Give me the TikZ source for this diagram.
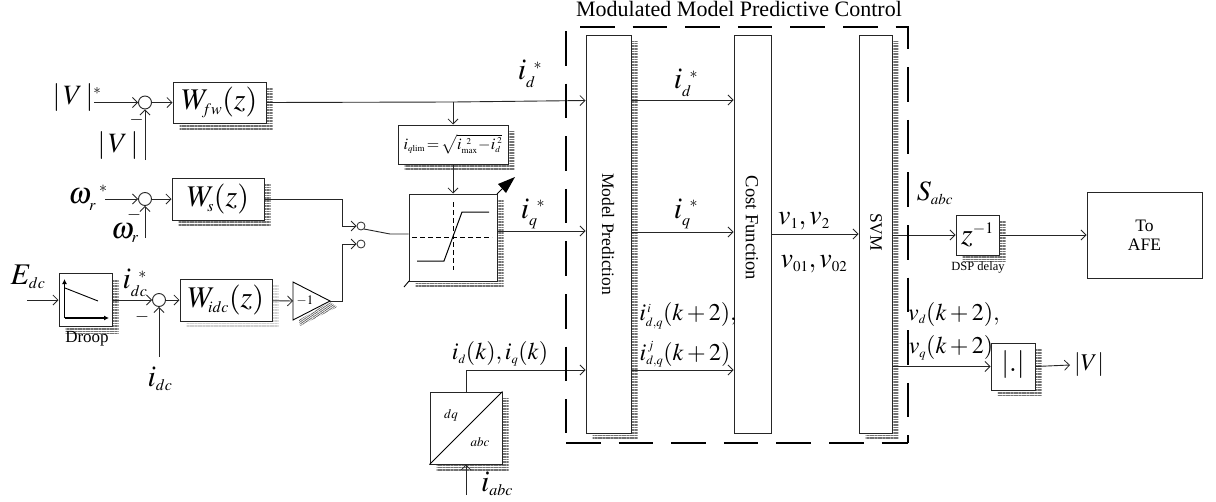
\documentclass[tikz,border=0pt]{standalone}
\usepackage{mathptmx}
\usepackage{fontspec}
\setmainfont{Liberation Serif}
\usetikzlibrary{arrows.meta,shadows,patterns.meta,calc}
\DeclareMathSizes{30}{30}{16}{12}
\DeclareMathSizes{28}{28}{15}{11}
\DeclareMathSizes{24}{24}{12.5}{10}
\DeclareMathSizes{16}{16}{9}{7}
\newcommand{\fsz}[1]{\fontsize{#1}{#1}\selectfont}
\tikzset{
  x=1pt,y=-1pt,
  wire/.style={line width=0.9pt,draw=black!85},
  arr/.style={wire,-{Straight Barb[length=5pt,width=10pt,line width=0.8pt]}},
  hatchshadow/.style={general shadow={shadow xshift=6.5pt,shadow yshift=-6.5pt,
     pattern={Lines[angle=0,distance=1.6pt,line width=0.8pt]},pattern color=black!55}},
  lightshadow/.style={general shadow={shadow xshift=6.5pt,shadow yshift=-6.5pt,
     pattern={Lines[angle=0,distance=1.6pt,line width=0.6pt]},pattern color=black!18}},
  blockbox/.style={draw=black!85,line width=1pt,fill=white,inner sep=0pt,anchor=center},
  sumnode/.style={circle,draw=black!85,line width=0.9pt,fill=white,minimum size=13pt,inner sep=0pt},
  contact/.style={circle,draw=black!85,line width=0.8pt,fill=white,minimum size=8pt,inner sep=0pt},
  lab/.style={inner sep=0pt,anchor=center},
  border/.style={line width=2pt,dash pattern=on 34.6pt off 18pt},
}
\begin{document}
\begin{tikzpicture}
\useasboundingbox (0,0) rectangle (1216,501);
% blocks
\node[blockbox,hatchshadow,minimum width=93pt,minimum height=41pt] (wfw) at (219.5,102.5) {\fsz{30}$W_{\!fw}(z)$};
\node[blockbox,hatchshadow,minimum width=92pt,minimum height=42pt] (ws) at (218,199) {\fsz{30}$W_{\!s}(z)$};
\node[blockbox,lightshadow,minimum width=92pt,minimum height=42pt] (widc) at (226,300) {\fsz{30}$W_{\!idc}(z)$};
\node[blockbox,hatchshadow,minimum width=53pt,minimum height=53pt] (droop) at (85.5,300) {};
\node[blockbox,hatchshadow,minimum width=110pt,minimum height=39pt] (lim) at (453,144.5) {\fsz{16}$i_{q\mathrm{lim}}\!=\!\sqrt{i_{\mathrm{max}}^{\ \,2}\!-\!i_{d}^{\;2}}$};
\node[blockbox,hatchshadow,minimum width=88pt,minimum height=87pt] (sat) at (453,237.5) {};
\node[blockbox,hatchshadow,minimum width=45pt,minimum height=398pt] (mp) at (608.5,234) {};
\node[blockbox,minimum width=37pt,minimum height=398pt] (cf) at (752.5,234) {};
\node[blockbox,hatchshadow,minimum width=33pt,minimum height=398pt] (svm) at (875.5,234) {};
\node[blockbox,hatchshadow,minimum width=43pt,minimum height=40pt] (zd) at (977.5,235) {\fsz{30}$z^{-1}$};
\node[blockbox,minimum width=115pt,minimum height=86pt,align=center] (afe) at (1144.5,235) {\fsz{17.5}To\\[7pt]\fsz{17.5}AFE};
\node[blockbox,hatchshadow,minimum width=44pt,minimum height=47pt] (absb) at (1013,366.5) {};
\node[blockbox,hatchshadow,minimum width=72pt,minimum height=72pt] (dq) at (466,428) {};
% sums and switch
\node[sumnode] (s1) at (145,102.5) {};
\node[sumnode] (s2) at (145,199) {};
\node[sumnode] (s3) at (159,300) {};
\node[contact] (c1) at (361,226) {};
\node[contact] (c2) at (361,244) {};
% gain
\fill[pattern={Lines[angle=35,distance=1.7pt,line width=0.7pt]},pattern color=black!65] (299,320)--(330,302)--(337,307)--(300,326)--cycle;
\coordinate (gi) at (293,301);
\coordinate (go) at (330,301);
\draw[line width=0.9pt,fill=white] (293,282)--(go)--(293,320)--cycle;
\node[lab] (gt) at (305,301) {\fsz{13}$-1$};
% free ends
\coordinate (vin) at (94,102.5);
\coordinate (vfb) at (145,160);
\coordinate (win) at (105,199);
\coordinate (wfb) at (145,238);
\coordinate (ein) at (27,300);
\coordinate (ifb) at (159,357);
\coordinate (tap) at (453,102);
\coordinate (vout) at (1070,365);
\coordinate (iabc) at (466,495);
\coordinate (blade) at (390,234);
\coordinate (c1e) at (364,229);
% connectors
\draw[arr] (vin) -- (s1);
\draw[arr] (vfb) -- (s1);
\draw[arr] (s1) -- (wfw);
\draw[arr] (win) -- (s2);
\draw[arr] (wfb) -- (s2);
\draw[arr] (s2) -- (ws);
\draw[arr] (ein) -- (droop);
\draw[arr] (droop) -- (s3);
\draw[arr] (ifb) -- (s3);
\draw[arr] (s3) -- (widc);
\draw[arr] (widc) -- (gi);
\draw[wire] (wfw.east) -- (tap);
\draw[arr] (tap) -- (mp.west |- 0,100.5);
\draw[arr] (tap) -- (lim.north);
\draw[arr] (lim.south) -- (sat.north);
\draw[arr] (ws.east) -- (342,199) -- (342,226) -- (c1);
\draw[arr] (go) -- (342,301) -- (342,244) -- (c2);
\draw[wire] (c1e) -- (blade) -- (sat.west |- blade);
\draw[arr] (sat.east |- 0,231) -- (mp.west |- 0,231);
\draw[arr] (mp.east |- 0,100) -- (cf.west |- 0,100);
\draw[arr] (mp.east |- 0,232) -- (cf.west |- 0,232);
\draw[arr] (mp.east |- 0,370) -- (cf.west |- 0,370);
\draw[arr] (dq.north) -- (466,370) -- (mp.west |- 0,370);
\draw[arr] (iabc) -- (dq.south);
\draw[arr] (cf.east |- 0,234) -- (svm.west |- 0,234);
\draw[arr] (svm.east |- zd.west) -- (zd.west);
\draw[arr] (zd.east) -- (afe.west);
\draw[arr] (svm.east |- absb.west) -- (absb.west);
\draw[arr] (absb.east) -- (vout);
% diagonal of dq
\draw[line width=0.9pt] (dq.south west) -- (dq.north east);
\draw[line width=0.9pt] (409,281) -- (404,287);
% droop characteristic
\draw[line width=1.1pt,-{Latex[length=5pt,width=5pt]}] (64.5,318) -- (64.5,279);
\draw[line width=1.1pt,-{Latex[length=5pt,width=5pt]}] (64.5,318) -- (109,318);
\draw[line width=0.9pt] (65,288) -- (98,301);
% saturation characteristic
\draw[line width=0.9pt,dash pattern=on 5pt off 3pt] (453,202) -- (453,270);
\draw[line width=0.9pt,dash pattern=on 5pt off 3pt] (412,237) -- (492,237);
\draw[line width=1pt] (417,261) -- (444,261) -- (462,212) -- (489,212);
\draw[line width=1pt] (497,194) -- (503,188);
\fill (515,177) -- (498,184) -- (506,193) -- cycle;
% border
\draw[border] (580,27) -- (908,27) -- (908,443);
\draw[border] (566,443) -- (908,443);
\draw[border] (566,31) -- (566,433);
% labels
\node[lab] (tt) at (739,9) {\fsz{22}Modulated Model Predictive Control};
\node[lab,rotate=-90] (tmp) at (608,234) {\fsz{17.5}Model Prediction};
\node[lab,rotate=-90] (tcf) at (752,228) {\fsz{18.5}Cost Function};
\node[lab,rotate=-90] (tsv) at (876,232) {\fsz{17.5}SVM};
\node[lab] (l1) at (77,98) {\fsz{28}$|\,V\,|^{*}$};
\node[lab] (l2) at (118,146) {\fsz{28}$|\,V\,|$};
\node[lab] (l3) at (88,198) {\fsz{30}$\omega_{r}^{\ *}$};
\node[lab] (l4) at (125,233) {\fsz{30}$\omega_{r}$};
\node[lab] (m1) at (136.5,120) {\fsz{18}$-$};
\node[lab] (m2) at (134,215) {\fsz{18}$-$};
\node[lab] (m3) at (142,317) {\fsz{18}$-$};
\node[lab] (l5) at (28,277) {\fsz{30}$E_{dc}$};
\node[lab] (l6) at (135,283) {\fsz{30}$i_{dc}^{\ *}$};
\node[lab] (l7) at (160,379) {\fsz{30}$i_{dc}$};
\node[lab] (l8) at (87,339) {\fsz{17}Droop};
\node[lab] (l9) at (530,74) {\fsz{30}$i_{d}^{\ *}$};
\node[lab] (l10) at (533,214) {\fsz{30}$i_{q}^{\ *}$};
\node[lab] (l11) at (686,83) {\fsz{30}$i_{d}^{\ *}$};
\node[lab] (l12) at (686,214) {\fsz{30}$i_{q}^{\ *}$};
\node[lab] (l13) at (500,354) {\fsz{24}$i_{d}(k),i_{q}(k)$};
\node[lab] (l14) at (497,484) {\fsz{30}$i_{abc}$};
\node[lab] (l15) at (688,316) {\fsz{24}$i_{d,q}^{\,i}(k+2),$};
\node[lab] (l16) at (685,354) {\fsz{24}$i_{d,q}^{\,j}(k+2)$};
\node[lab] (l17) at (804,221) {\fsz{28}$v_{1},v_{2}$};
\node[lab] (l18) at (814,264) {\fsz{28}$v_{01},v_{02}$};
\node[lab] (l19) at (935,193) {\fsz{28}$S_{abc}$};
\node[lab] (l20) at (978,268) {\fsz{12.5}DSP delay};
\node[lab] (l21) at (954,314) {\fsz{24}$v_{d}(k+2),$};
\node[lab] (l22) at (951,348) {\fsz{24}$v_{q}(k+2)$};
\node[lab] (l23) at (1089,365) {\fsz{24}$|V|$};
\node[lab] (l24) at (1013,365) {\fsz{28}$|{.}|$};
\node[lab] (l25) at (451,415) {\fsz{13}$dq$};
\node[lab] (l26) at (480,442) {\fsz{13}$abc$};
\end{tikzpicture}
\end{document}
